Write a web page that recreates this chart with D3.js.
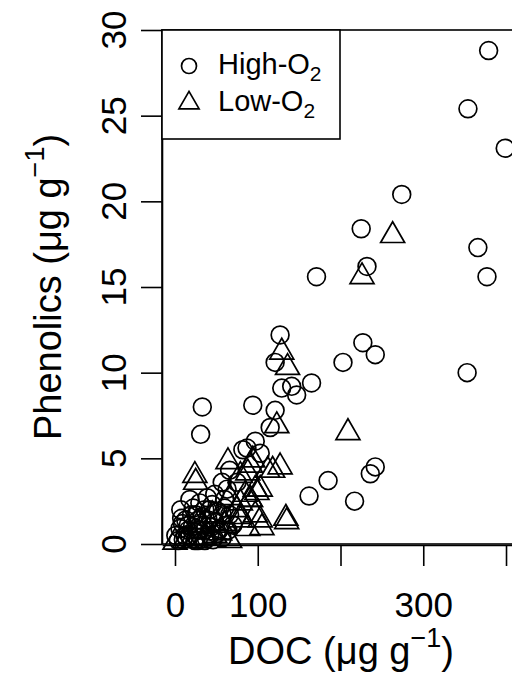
<!DOCTYPE html>
<html>
<head>
<meta charset="utf-8">
<script src="https://cdn.jsdelivr.net/npm/d3@7"></script>
<style>
  body { margin: 0; background: #fff; }
  svg { font-family: "Liberation Sans", Arial, sans-serif; }
</style>
</head>
<body>
<div id="chart"></div>
<script>
var width = 512,
    height = 685;

// DOC (ug/g) and phenolics (ug/g)
var highDoc = [379, 354, 399, 274, 225, 366, 232, 171, 377, 227, 242, 203, 353, 165,
  127, 121, 129, 141, 147, 33, 94, 121, 115, 31, 97, 87, 103, 82,
  242, 236, 185, 162, 217, 57, 63, 75, 66,
  12, 16, 8, 20, 28, 36, 45, 52, 60, 30, 42, 54, 24, 4, 18, 48, 66, 36, 57, 6,
  1, 10, 18, 27, 34, 40, 48, 57, 13, 22, 30, 39, 46, 64, 7, 28, 53, 42, 60, 16, 70, 25, 36,
  14, 21, 33, 44, 50, 9, 26, 38];
var highPhen = [28.8, 25.4, 23.1, 20.4, 18.4, 17.3, 16.2, 15.6, 15.6, 11.75, 11.05, 10.6, 10.0, 9.4,
  12.2, 10.6, 9.1, 9.2, 8.7, 8.0, 8.1, 7.8, 6.8, 6.4, 6.0, 5.6, 5.3, 5.5,
  4.5, 4.1, 3.7, 2.8, 2.5, 3.6, 3.2, 3.6, 4.3,
  0.5, 1.1, 1.5, 1.7, 1.4, 2.0, 2.3, 1.9, 2.1, 0.8, 0.5, 0.9, 0.2, 0.2, 2.6, 2.9, 1.7, 0.2, 0.35, 0.9,
  0.5, 0.25, 0.5, 0.8, 1.1, 1.4, 1.3, 1.7, 1.4, 2.1, 2.4, 2.7, 0.25, 0.8, 2.0, 0.2, 0.8, 2.0, 2.6, 0.8, 1.1, 1.7, 0.8,
  0.3, 1.0, 1.6, 1.0, 0.6, 1.2, 0.4, 0.3];

var lowDoc = [263, 226, 209, 129, 136, 123, 64, 94, 88, 127, 118, 24, 25, 103, 97,
  75, 134, 135, 103, 105, 97, 91, 79, 85, 91, 66, 79, 60, 48, 66, 24, 36, 12,
  30, 45, 88, 112, 0, 79, 91, 99, 79, 60, 54];
var lowPhen = [18.0, 15.6, 6.5, 11.2, 10.3, 6.9, 4.8, 4.9, 4.15, 4.5, 4.3, 4.0, 3.6, 3.2, 3.2,
  2.0, 1.5, 1.3, 1.4, 0.95, 1.7, 4.6, 4.0, 2.9, 2.6, 2.7, 1.4, 1.1, 0.5, 0.2, 0.2, 0.35, 0.2,
  1.3, 1.7, 0.9, 4.3, 0.1, 2.4, 2.6, 3.0, 1.6, 1.2, 0.65];

var xTicks = [0, 100, 200, 300, 400],
    xTickLabels = ["0", "100", "", "300", ""];
var yTicks = [0, 5, 10, 15, 20, 25, 30];
var legendLabels = ["High-O", "Low-O"];

var plotL = 162, plotR = 520, plotT = 30, plotB = 544;

var x = d3.scaleLinear().domain([-15.7, 416.9]).range([plotL, plotR]);
var y = d3.scaleLinear().domain([0, 30]).range([plotB, plotT]);

var svg = d3.select("#chart").append("svg")
    .attr("width", width)
    .attr("height", height);

svg.append("rect").attr("width", width).attr("height", height).attr("fill", "#fff");

var s = 8.9; // R symbol size
function triPath(k) {
  return "M0," + (-1.555 * k) + "L" + (1.347 * k) + "," + (0.778 * k) +
    "L" + (-1.347 * k) + "," + (0.778 * k) + "Z";
}

// box
svg.append("rect")
    .attr("x", plotL).attr("y", plotT)
    .attr("width", plotR - plotL).attr("height", plotB - plotT)
    .attr("fill", "none").attr("stroke", "#000").attr("stroke-width", 1.6);

// axes
var xAxis = svg.append("g")
    .attr("transform", "translate(0," + (plotB + 1) + ")")
    .call(d3.axisBottom(x).tickValues(xTicks).tickSize(21).tickSizeOuter(0)
      .tickPadding(26).tickFormat(function(d, i) { return xTickLabels[i]; }));
xAxis.selectAll("path, line").attr("stroke", "#000").attr("stroke-width", 1.6);
xAxis.selectAll("text").attr("font-size", 35).attr("fill", "#000")
    .attr("font-family", "Liberation Sans, Arial, sans-serif");

var yAxis = svg.append("g")
    .attr("transform", "translate(" + plotL + ",0)")
    .call(d3.axisLeft(y).tickValues(yTicks).tickSize(21).tickSizeOuter(0).tickFormat(""));
yAxis.selectAll("path, line").attr("stroke", "#000").attr("stroke-width", 1.6);

svg.append("g").selectAll("text")
    .data(yTicks)
  .enter().append("text")
    .attr("transform", function(d) { return "translate(126," + y(d) + ")rotate(-90)"; })
    .attr("text-anchor", "middle")
    .attr("font-size", 35)
    .text(function(d) { return d; });

// axis titles
var xt = svg.append("text")
    .attr("x", 341).attr("y", 664)
    .attr("text-anchor", "middle")
    .attr("font-size", 38);
xt.append("tspan").text("DOC (\u03bcg g");
xt.append("tspan").attr("font-size", 27).attr("dy", -17).text("\u22121");
xt.append("tspan").attr("dy", 17).text(")");

var yt = svg.append("text")
    .attr("transform", "translate(61," + ((plotT + plotB) / 2) + ")rotate(-90)")
    .attr("text-anchor", "middle")
    .attr("font-size", 38);
yt.append("tspan").text("Phenolics (\u03bcg g");
yt.append("tspan").attr("font-size", 27).attr("dy", -17).text("\u22121");
yt.append("tspan").attr("dy", 17).text(")");

// points
var pts = svg.append("g").attr("fill", "none").attr("stroke", "#000").attr("stroke-width", 1.7);

pts.selectAll("circle")
    .data(d3.range(highDoc.length))
  .enter().append("circle")
    .attr("cx", function(i) { return x(highDoc[i]); })
    .attr("cy", function(i) { return y(highPhen[i]); })
    .attr("r", s);

pts.selectAll("path")
    .data(d3.range(lowDoc.length))
  .enter().append("path")
    .attr("transform", function(i) { return "translate(" + x(lowDoc[i]) + "," + y(lowPhen[i]) + ")"; })
    .attr("d", triPath(s));

// legend
var lg = svg.append("g");
lg.append("rect")
    .attr("x", plotL).attr("y", plotT)
    .attr("width", 178).attr("height", 109)
    .attr("fill", "#fff").attr("stroke", "#000").attr("stroke-width", 1.6);
lg.append("circle").attr("cx", 189).attr("cy", 66).attr("r", 7.5)
    .attr("fill", "none").attr("stroke", "#000").attr("stroke-width", 1.7);
lg.append("path").attr("transform", "translate(189,103)").attr("d", triPath(7.5))
    .attr("fill", "none").attr("stroke", "#000").attr("stroke-width", 1.7);

legendLabels.forEach(function(lab, i) {
  var t = lg.append("text")
      .attr("x", 218).attr("y", 74 + i * 37)
      .attr("font-size", 29);
  t.append("tspan").text(lab);
  t.append("tspan").attr("font-size", 21).attr("dy", 7).text("2");
});
</script>
</body>
</html>
